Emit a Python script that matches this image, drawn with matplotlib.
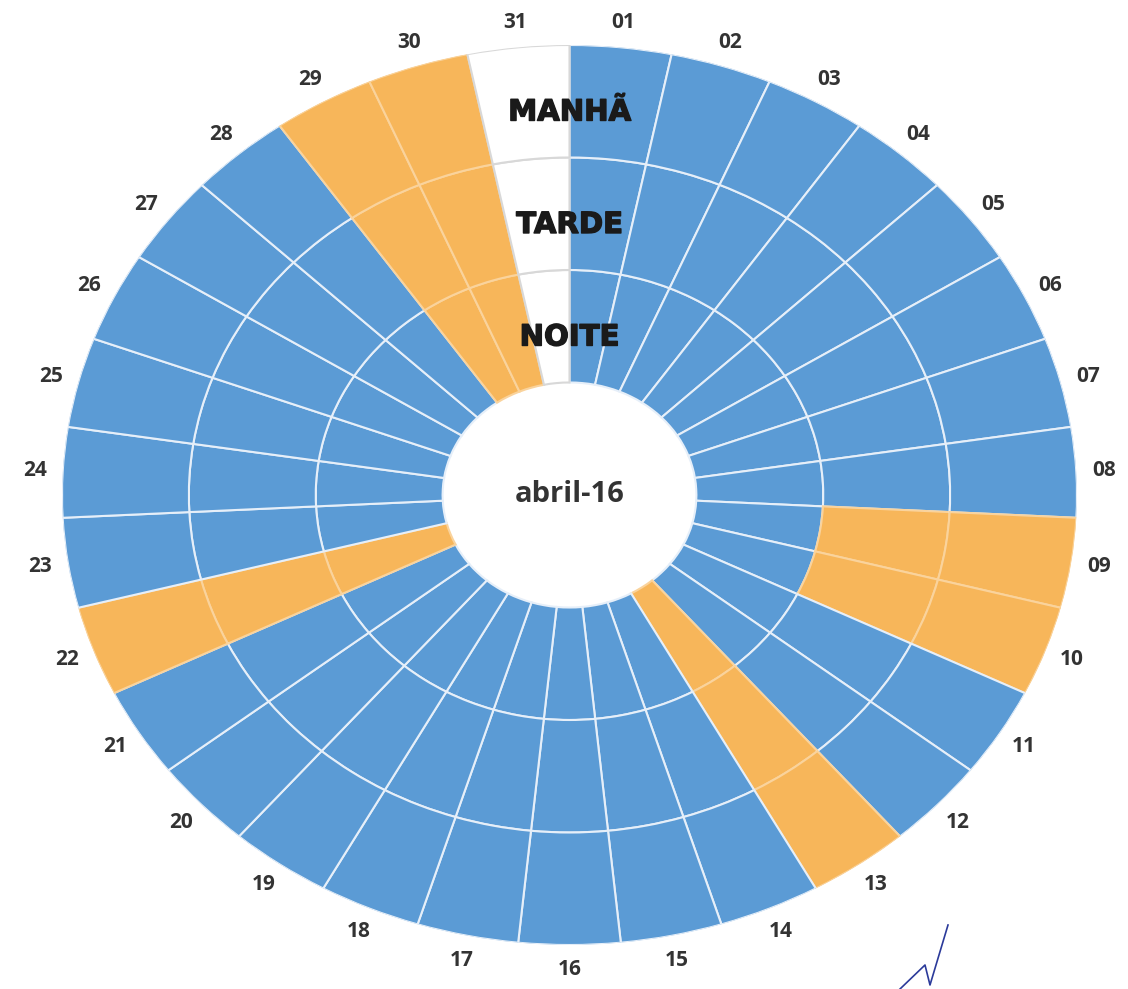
import numpy as np
import matplotlib
matplotlib.use("Agg")
import matplotlib.pyplot as plt
import matplotlib.patheffects as pe
from matplotlib.lines import Line2D

# ---- data ----
days = [f"{d:02d}" for d in range(1, 32)]
periods = ["NOITE", "TARDE", "MANHÃ"]          # inner -> outer
center_label = "abril-16"
# status codes: 0 = ok (blue), 1 = falta (orange), 2 = sem dia (white)
manha = [0, 0, 0, 0, 0, 0, 0, 0, 1, 1, 0, 0, 1, 0, 0, 0, 0, 0, 0, 0,
         0, 1, 0, 0, 0, 0, 0, 0, 1, 1, 2]
tarde = [0, 0, 0, 0, 0, 0, 0, 0, 1, 1, 0, 0, 1, 0, 0, 0, 0, 0, 0, 0,
         0, 1, 0, 0, 0, 0, 0, 0, 1, 1, 2]
noite = [0, 0, 0, 0, 0, 0, 0, 0, 0, 0, 0, 0, 1, 0, 0, 0, 0, 0, 0, 0,
         0, 1, 0, 0, 0, 0, 0, 0, 1, 1, 2]

colors = {0: "#5B9BD5", 1: "#F7B65A", 2: "#FFFFFF"}
edges = {0: "#E6EFF9", 1: "#FAD39C", 2: "#D8D8D8"}

fig = plt.figure(figsize=(11.28, 9.89), dpi=100)
fig.patch.set_facecolor("white")
ax = fig.add_axes([62 / 1128, 44 / 989, 1015 / 1128, 900 / 989], projection="polar")
ax.set_aspect("auto")
ax.set_theta_zero_location("N")
ax.set_theta_direction(-1)

n = len(days)
width = 2 * np.pi / n
theta = (np.arange(n) + 0.5) * width

for ring, vals in enumerate([noite, tarde, manha]):
    bottom = 1.0 + ring
    ax.bar(theta, [1.0] * n, width=width, bottom=bottom,
           color=[colors[v] for v in vals],
           edgecolor=[edges[v] for v in vals], linewidth=1.5, align="center")

ax.set_ylim(0, 4.0)
ax.set_xticks([])
ax.set_yticks([])
ax.grid(False)
ax.spines["polar"].set_visible(False)
ax.patch.set_alpha(0)

# day labels
for t, d in zip(theta, days):
    ax.text(t, 4.22, d, ha="center", va="center", fontsize=15,
            fontfamily="Open Sans", fontweight="bold", color="#333333")

# period labels on the top slice
for ring, p in enumerate(periods):
    ax.text(0, ring + 1.4, p, ha="center", va="center", fontsize=21,
            fontfamily="DejaVu Sans", fontweight="bold", color="#1a1a1a",
            path_effects=[pe.withStroke(linewidth=1.0, foreground="#1a1a1a")])

ax.text(0, 0, center_label, ha="center", va="center", fontsize=21,
        fontfamily="Open Sans", fontweight="bold", color="#333333")

# small signature stroke at bottom right
fig.add_artist(Line2D([900 / 1128, 925 / 1128, 930 / 1128, 948 / 1128],
                      [1 - 989 / 989, 1 - 965 / 989, 1 - 985 / 989, 1 - 925 / 989],
                      color="#2b3a9a", lw=1.2))

fig.savefig("out.png", dpi=100, facecolor="white")
